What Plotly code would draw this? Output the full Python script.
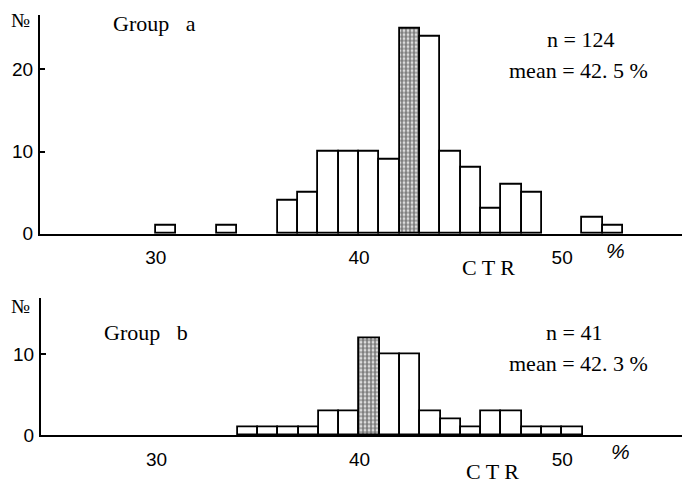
import plotly.graph_objects as go

# ---- data ----
top_bins = [30, 33, 36, 37, 38, 39, 40, 41, 42, 43, 44, 45, 46, 47, 48, 51, 52]
top_counts = [1, 1, 4, 5, 10, 10, 10, 9, 25, 24, 10, 8, 3, 6, 5, 2, 1]
top_mode = 42

bot_bins = [34, 35, 36, 37, 38, 39, 40, 41, 42, 43, 44, 45, 46, 47, 48, 49, 50]
bot_counts = [1, 1, 1, 1, 3, 3, 12, 10, 10, 3, 2, 1, 3, 3, 1, 1, 1]
bot_mode = 40

x_ticks = [30, 40, 50]
top_yticks = [0, 10, 20]
bot_yticks = [0, 10]

W, H = 682, 496
SERIF = "Liberation Serif"
SANS = "Liberation Sans"


def px(x):
    return x / W


def py(y):
    return 1 - y / H


def bars(bins, counts, mode, xa, ya):
    centers = [b + 0.5 for b in bins]
    shapes = ["." if b == mode else "" for b in bins]
    return go.Bar(
        x=centers, y=counts, width=1, xaxis=xa, yaxis=ya,
        marker=dict(color="white", line=dict(color="black", width=1.8),
                    pattern=dict(shape=shapes, size=4, solidity=0.7,
                                 fgcolor="black", bgcolor="white", fillmode="overlay")),
        showlegend=False, hoverinfo="skip",
    )


fig = go.Figure()
fig.add_trace(bars(top_bins, top_counts, top_mode, "x", "y"))
fig.add_trace(bars(bot_bins, bot_counts, bot_mode, "x2", "y2"))

xcommon = dict(range=[24.3, 55.9], showline=True, linecolor="black", linewidth=2,
               showgrid=False, zeroline=False, ticks="", tickvals=x_ticks,
               tickfont=dict(family=SANS, size=19, color="black"), ticklabelstandoff=6)
ycommon = dict(showline=True, linecolor="black", linewidth=2, showgrid=False,
               zeroline=False, ticks="inside", ticklen=5, tickwidth=1.5, tickcolor="black",
               tickfont=dict(family=SANS, size=19, color="black"), ticklabelstandoff=1)

fig.update_layout(
    width=W, height=H, margin=dict(l=0, r=0, t=0, b=0),
    paper_bgcolor="white", plot_bgcolor="white", bargap=0,
    xaxis=dict(domain=[px(40), 1], anchor="y", **xcommon),
    yaxis=dict(domain=[py(239), py(15)], anchor="x", range=[0, 26.67],
               tickvals=top_yticks, **ycommon),
    xaxis2=dict(domain=[px(41), 1], anchor="y2", **xcommon),
    yaxis2=dict(domain=[py(445), py(305)], anchor="x2", range=[0, 16.87],
                tickvals=bot_yticks, **ycommon),
)


def note(text, x, y, size=22, family=SERIF, xanchor="center"):
    fig.add_annotation(text=text, x=px(x), y=py(y), xref="paper", yref="paper",
                       showarrow=False, xanchor=xanchor, yanchor="middle",
                       font=dict(family=family, size=size, color="black"))


# top panel texts
note("№", 20, 20, size=20)
note("Group   a", 154, 24)
note("n = 124", 580, 40)
note("mean = 42. 5 %", 578, 72)
note("C T R", 488, 274)
note("<i>%</i>", 615, 256, size=21, family=SANS)

# bottom panel texts
note("№", 20, 313, size=20)
note("Group   b", 146, 340)
note("n = 41", 574, 340)
note("mean = 42. 3 %", 578, 372)
note("C T R", 492, 482)
note("<i>%</i>", 620, 462, size=21, family=SANS)

fig.write_html("out.html")
